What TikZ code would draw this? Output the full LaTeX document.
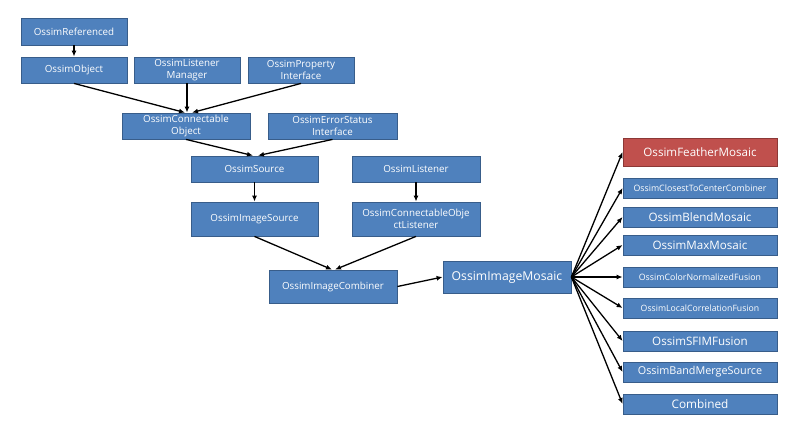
\documentclass[tikz,border=0pt]{standalone}
\usepackage{fontspec}
\setmainfont{Open Sans}
\usetikzlibrary{arrows.meta}
\definecolor{boxblue}{HTML}{4F81BD}
\definecolor{boxline}{HTML}{385D8A}
\definecolor{boxred}{HTML}{C0504D}
\definecolor{redline}{HTML}{8C3836}
\begin{document}
\begin{tikzpicture}[x=1pt,y=-1pt]
    \tikzstyle{every node}+=[inner sep=0pt]
    \tikzstyle{cls}=[draw=boxline, fill=boxblue, line width=0.8pt, text=white, align=center, font=\fontsize{9.8}{12.5}\selectfont]
    \tikzstyle{sub}=[cls, minimum width=154pt, minimum height=20pt]
    \tikzstyle{link}=[black, line width=1.3pt, -{Latex[length=6pt,width=5pt]}]
    \useasboundingbox (0,0) rectangle (795,426);
    \node [cls, minimum width=106pt, minimum height=27pt] (ref) at (74,31.5) {OssimReferenced};
    \node [cls, minimum width=106pt, minimum height=26pt] (obj) at (74,70) {OssimObject};
    \node [cls, minimum width=106pt, minimum height=26pt] (lman) at (187,70) {OssimListener\\Manager};
    \node [cls, minimum width=106pt, minimum height=26pt] (prop) at (301,70) {OssimProperty\\Interface};
    \node [cls, minimum width=128pt, minimum height=26pt] (cobj) at (186,126) {OssimConnectable\\Object};
    \node [cls, minimum width=129pt, minimum height=26pt] (err) at (332.5,126) {OssimErrorStatus\\Interface};
    \node [cls, minimum width=127pt, minimum height=26pt] (src) at (254.5,169) {OssimSource};
    \node [cls, minimum width=128pt, minimum height=26pt] (lis) at (416,169) {OssimListener};
    \node [cls, minimum width=127pt, minimum height=34pt] (isrc) at (254.5,219) {OssimImageSource};
    \node [cls, minimum width=128pt, minimum height=34pt] (colis) at (416,219) {OssimConnectableObje\\ctListener};
    \node [cls, minimum width=128pt, minimum height=33pt] (comb) at (333,286.5) {OssimImageCombiner};
    \node [cls, minimum width=128pt, minimum height=32pt, font=\fontsize{12.2}{13}\selectfont] (mos) at (507,277) {OssimImageMosaic};
    \node [sub, minimum height=28pt, fill=boxred, draw=redline, font=\fontsize{11.6}{12}\selectfont] (feat) at (700,152) {OssimFeatherMosaic};
    \node [sub, font=\fontsize{8.8}{9}\selectfont] (clos) at (700,188) {OssimClosestToCenterCombiner};
    \node [sub, font=\fontsize{11.6}{12}\selectfont] (blend) at (700,217) {OssimBlendMosaic};
    \node [sub, font=\fontsize{11.6}{12}\selectfont] (max) at (700,245) {OssimMaxMosaic};
    \node [sub, font=\fontsize{8.8}{9}\selectfont] (cnorm) at (700,277) {OssimColorNormalizedFusion};
    \node [sub, font=\fontsize{8.7}{9}\selectfont] (lcor) at (700,308) {OssimLocalCorrelationFusion};
    \node [sub, font=\fontsize{11.6}{12}\selectfont] (sfim) at (700,341) {OssimSFIMFusion};
    \node [sub, font=\fontsize{10.8}{11}\selectfont] (band) at (700,372) {OssimBandMergeSource};
    \node [sub, font=\fontsize{11.8}{12}\selectfont] (cmbd) at (700,404) {Combined};
    \draw [link] (ref) -- (obj);
    \draw [link] (obj.south) -- ([xshift=-1pt]cobj.north);
    \draw [link] (lman.south) -- ([xshift=1pt]cobj.north);
    \draw [link] (prop.south) -- ([xshift=6pt]cobj.north);
    \draw [link] (cobj.south) -- ([xshift=-1.5pt]src.north);
    \draw [link] (err.south) -- ([xshift=3.5pt]src.north);
    \draw [link] (src) -- (isrc);
    \draw [link] (lis) -- (colis);
    \draw [link] (isrc.south) -- ([xshift=-1pt]comb.north);
    \draw [link] (colis.south) -- ([xshift=2pt]comb.north);
    \draw [link] (comb.east) -- (mos.west);
    \foreach \t in {feat,clos,blend,max,cnorm,lcor,sfim,band,cmbd}
        \draw [link] (mos.east) -- (\t.west);
\end{tikzpicture}
\end{document}
